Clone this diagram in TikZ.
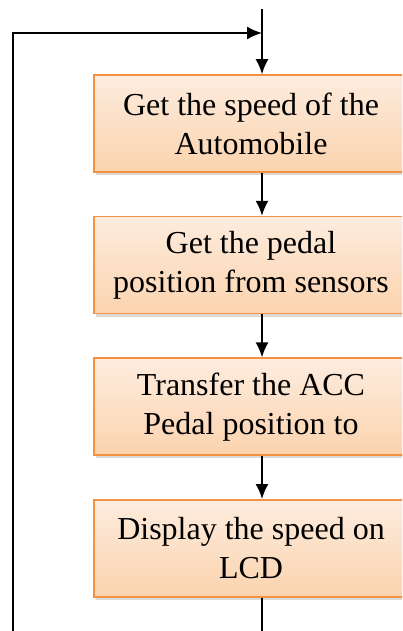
\documentclass[tikz,border=0pt]{standalone}
\usepackage{fontspec}
\setmainfont{Liberation Serif}
\usetikzlibrary{positioning,arrows.meta,shadows}
\tikzset{>={Latex[length=15pt,width=13pt]}}
\definecolor{boxtop}{RGB}{253,236,222}
\definecolor{boxbot}{RGB}{251,211,174}
\definecolor{boxline}{RGB}{245,146,66}
\tikzset{stepbox/.style={rectangle,draw=boxline,line width=1.6pt,top color=boxtop,bottom color=boxbot,minimum width=314pt,minimum height=97pt,align=center,font=\fontsize{32}{39}\selectfont,drop shadow={shadow xshift=2pt,shadow yshift=-3pt,opacity=0.3}}}
\tikzset{flow/.style={line width=1.8pt,->}}

\begin{document}
\begin{tikzpicture}[x=1pt,y=-1pt,node distance=43pt]
	\useasboundingbox (0,0) rectangle (402,631);
	\clip (0,0) rectangle (402,631);
	\node[stepbox] (speed) at(251,123.5) {Get the speed of the\\Automobile};
	\node[stepbox,below=of speed] (pedal) {Get the pedal\\position from sensors};
	\node[stepbox,below=of pedal] (transfer) {Transfer the ACC\\Pedal position to};
	\node[stepbox,below=of transfer] (lcd) {Display the speed on\\LCD};
	\coordinate (top) at(262,9);
	\coordinate (join) at(262,33);
	\coordinate (loopL) at(13,660);
	\draw[flow] (top) -- (join |- speed.north);
	\draw[flow] (join |- speed.south) -- (join |- pedal.north);
	\draw[flow] (join |- pedal.south) -- (join |- transfer.north);
	\draw[flow] (join |- transfer.south) -- (join |- lcd.north);
	\draw[flow] (join |- lcd.south) |- (loopL) |- (join);
\end{tikzpicture}
\end{document}
